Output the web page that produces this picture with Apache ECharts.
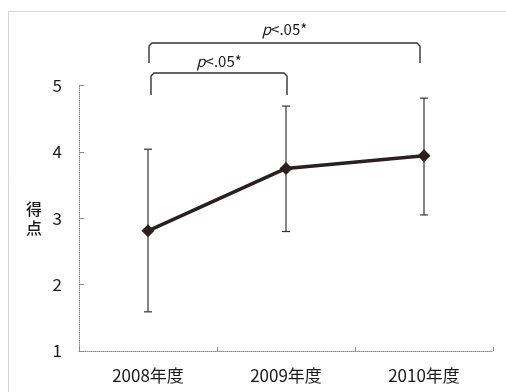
<!DOCTYPE html>
<html>
<head>
<meta charset="utf-8">
<script src="https://cdn.jsdelivr.net/npm/echarts@6/dist/echarts.min.js"></script>
<style>
  html, body { margin: 0; padding: 0; background: #fff; }
  #chart { width: 506px; height: 392px; }
</style>
</head>
<body>
<div id="chart"></div>
<script>
// Yearly scores: mean with +/- SD error bars
const categories = ['2008年度', '2009年度', '2010年度'];
const means = [2.81, 3.75, 3.94];
const lower = [1.59, 2.80, 3.05];
const upper = [4.04, 4.69, 4.81];
const yTicks = [1, 2, 3, 4, 5];
// Significance brackets: [from category, to category, label]
const brackets = [
  [0, 2, 'p<.05*'],
  [0, 1, 'p<.05*']
];

const FONT = '"Noto Sans CJK JP", "Noto Sans", sans-serif';
const chart = echarts.init(document.getElementById('chart'), null, { renderer: 'canvas' });

// pixel layout for bracket levels (outer first, inner second)
const bracketLayout = [
  { top: 43, leg: 20, textY: 29, inL: 1, inR: -4 },
  { top: 73, leg: 22, textY: 61, inL: 3, inR: 1 }
];

chart.setOption({
  animation: false,
  backgroundColor: '#ffffff',
  grid: { left: 79, right: 13, top: 85.5, bottom: 41 },
  graphic: [{
    type: 'rect',
    shape: { x: 8.5, y: 11.5, width: 520, height: 400 },
    style: { fill: 'none', stroke: '#a8a8a8', lineWidth: 1, lineDash: [1, 1] },
    silent: true
  }],
  xAxis: {
    type: 'category',
    data: categories,
    boundaryGap: true,
    axisLine: { lineStyle: { color: '#8a8a8a', width: 1, type: [1, 1] } },
    axisTick: { show: true, inside: true, length: 4, alignWithLabel: false, lineStyle: { color: '#8a8a8a' } },
    axisLabel: { color: '#1a1a1a', fontSize: 17, fontFamily: FONT, margin: 16 },
    splitLine: { show: false }
  },
  yAxis: {
    type: 'value',
    min: yTicks[0],
    max: yTicks[yTicks.length - 1],
    interval: 1,
    name: '得\n点',
    nameLocation: 'middle',
    nameRotate: 0,
    nameGap: 37,
    nameTextStyle: { color: '#1a1a1a', fontSize: 16, fontFamily: FONT, lineHeight: 19, fontWeight: 500 },
    axisLine: { show: true, lineStyle: { color: '#8a8a8a', width: 1, type: [1, 1] } },
    axisTick: { show: true, inside: true, length: 5, lineStyle: { color: '#8a8a8a' } },
    axisLabel: { color: '#1a1a1a', fontSize: 17, fontFamily: FONT, margin: 17 },
    splitLine: { show: false }
  },
  series: [
    {
      type: 'custom',
      name: 'sd',
      z: 2,
      data: categories.map((c, i) => [i, lower[i], upper[i]]),
      renderItem: function (params, api) {
        const lo = api.coord([api.value(0), api.value(1)]);
        const hi = api.coord([api.value(0), api.value(2)]);
        const cap = 4;
        const st = { stroke: '#333', lineWidth: 1.2 };
        return {
          type: 'group',
          children: [
            { type: 'line', shape: { x1: hi[0], y1: hi[1], x2: lo[0], y2: lo[1] }, style: st },
            { type: 'line', shape: { x1: hi[0] - cap, y1: hi[1], x2: hi[0] + cap, y2: hi[1] }, style: st },
            { type: 'line', shape: { x1: lo[0] - cap, y1: lo[1], x2: lo[0] + cap, y2: lo[1] }, style: st }
          ]
        };
      }
    },
    {
      type: 'line',
      name: 'mean',
      z: 3,
      data: means,
      symbol: 'diamond',
      symbolSize: 13,
      lineStyle: { color: '#2b1f1f', width: 3.5 },
      itemStyle: { color: '#2b1f1f' }
    },
    {
      type: 'custom',
      name: 'sig',
      z: 4,
      clip: false,
      data: brackets.map((b, k) => [b[0], b[1], k]),
      renderItem: function (params, api) {
        const k = api.value(2);
        const L = bracketLayout[k];
        const a = api.coord([api.value(0), 5]);
        const b = api.coord([api.value(1), 5]);
        const x1 = a[0] + L.inL, x2 = b[0] + L.inR;
        const y = L.top, yb = L.top + L.leg, r = 3;
        const st = { stroke: '#333', lineWidth: 1.4, fill: 'none' };
        return {
          type: 'group',
          children: [
            {
              type: 'polyline',
              shape: { points: [[x1, yb], [x1, y + r], [x1 + r, y], [x2 - r, y], [x2, y + r], [x2, yb]] },
              style: st
            },
            {
              type: 'text',
              x: (x1 + x2) / 2,
              y: L.textY,
              style: {
                text: '{i|p}<.05*',
                align: 'center',
                verticalAlign: 'middle',
                fill: '#1a1a1a',
                fontSize: 15,
                fontFamily: FONT,
                rich: { i: { fontStyle: 'italic', fontSize: 15, fontFamily: FONT, fill: '#1a1a1a' } }
              }
            }
          ]
        };
      }
    }
  ]
});
</script>
</body>
</html>
